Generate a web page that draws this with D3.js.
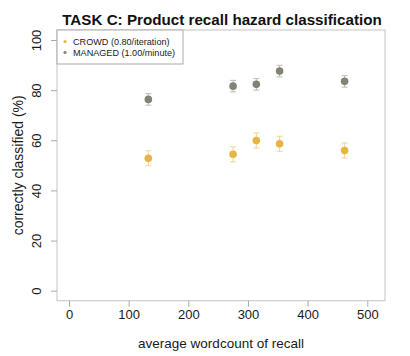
<!DOCTYPE html>
<html>
<head>
<meta charset="utf-8">
<script src="https://cdn.jsdelivr.net/npm/d3@7"></script>
<style>
  html, body { margin: 0; padding: 0; background: #fff; }
  svg { display: block; font-family: "Liberation Sans", Arial, sans-serif; }
</style>
</head>
<body>
<svg id="chart" width="410" height="356"></svg>
<script>
// ---- data ----
const wordcounts = [133, 275, 314, 353, 462];
const crowdValues = [52.8, 54.4, 59.9, 58.6, 55.9];
const crowdErrors = [3.0, 3.0, 3.0, 3.0, 3.0];
const managedValues = [76.3, 81.6, 82.3, 87.6, 83.5];
const managedErrors = [2.3, 2.3, 2.3, 2.3, 2.3];
const seriesNames = ["CROWD (0.80/iteration)", "MANAGED (1.00/minute)"];
const xTicks = [0, 100, 200, 300, 400, 500];
const yTicks = [0, 20, 40, 60, 80, 100];
const titleText = "TASK C: Product recall hazard classification";
const xLabel = "average wordcount of recall";
const yLabel = "correctly classified (%)";

// ---- layout ----
const svg = d3.select("#chart");
const frame = { left: 57, right: 385, top: 30, bottom: 300.7 };
const x = d3.scaleLinear().domain([0, 500]).range([69, 367.3]);
const y = d3.scaleLinear().domain([0, 100]).range([290.7, 40]);

const colors = { crowd: "#e6b440", managed: "#858275" };
const errColors = { crowd: "#f0d58c", managed: "#bdbbb2" };
const textColor = "#1a1a1a";

// frame
svg.append("rect")
  .attr("x", frame.left).attr("y", frame.top)
  .attr("width", frame.right - frame.left)
  .attr("height", frame.bottom - frame.top)
  .attr("fill", "none").attr("stroke", "#c4c4c4").attr("stroke-width", 1);

// x axis
const xAxis = d3.axisBottom(x).tickValues(xTicks).tickSize(6).tickPadding(3)
  .tickFormat(d3.format("d"));
const gx = svg.append("g").attr("transform", `translate(0,${frame.bottom})`).call(xAxis);
gx.select(".domain").remove();
gx.selectAll(".tick line").attr("stroke", "#aaaaaa");
gx.selectAll(".tick text").attr("font-size", 13).attr("fill", textColor)
  .attr("font-family", "Liberation Sans, Arial, sans-serif");

// y axis
const yAxis = d3.axisLeft(y).tickValues(yTicks).tickSize(6).tickPadding(0)
  .tickFormat(d3.format("d"));
const gy = svg.append("g").attr("transform", `translate(${frame.left},0)`).call(yAxis);
gy.select(".domain").remove();
gy.selectAll(".tick line").attr("stroke", "#aaaaaa");
gy.selectAll(".tick text")
  .attr("font-size", 13).attr("fill", textColor)
  .attr("font-family", "Liberation Sans, Arial, sans-serif")
  .attr("x", null).attr("dy", null)
  .attr("text-anchor", "middle")
  .attr("transform", "translate(-16,0) rotate(-90)");

// title
svg.append("text")
  .attr("x", (frame.left + frame.right) / 2 + 1).attr("y", 25)
  .attr("text-anchor", "middle")
  .attr("font-size", 15.2).attr("font-weight", "bold").attr("fill", "#111")
  .text(titleText);

// axis labels
svg.append("text")
  .attr("x", (frame.left + frame.right) / 2).attr("y", 348)
  .attr("text-anchor", "middle").attr("font-size", 13.5).attr("fill", textColor)
  .text(xLabel);
svg.append("text")
  .attr("transform", `translate(23,${(frame.top + frame.bottom) / 2}) rotate(-90)`)
  .attr("text-anchor", "middle").attr("font-size", 14).attr("fill", textColor)
  .text(yLabel);

// series
const series = [
  { key: "crowd", values: crowdValues, errors: crowdErrors },
  { key: "managed", values: managedValues, errors: managedErrors }
];
const capW = 3;
series.forEach(s => {
  const pts = wordcounts.map((w, i) => ({ w, v: s.values[i], e: s.errors[i] }));
  const g = svg.append("g");
  const eb = g.selectAll("g.eb").data(pts).enter().append("g")
    .attr("stroke", errColors[s.key]).attr("stroke-width", 1);
  eb.append("line")
    .attr("x1", d => x(d.w)).attr("x2", d => x(d.w))
    .attr("y1", d => y(d.v - d.e)).attr("y2", d => y(d.v + d.e));
  eb.append("line")
    .attr("x1", d => x(d.w) - capW).attr("x2", d => x(d.w) + capW)
    .attr("y1", d => y(d.v + d.e)).attr("y2", d => y(d.v + d.e));
  eb.append("line")
    .attr("x1", d => x(d.w) - capW).attr("x2", d => x(d.w) + capW)
    .attr("y1", d => y(d.v - d.e)).attr("y2", d => y(d.v - d.e));
  g.selectAll("circle").data(pts).enter().append("circle")
    .attr("cx", d => x(d.w)).attr("cy", d => y(d.v))
    .attr("r", 3.8).attr("fill", colors[s.key]);
});

// legend
const leg = svg.append("g");
leg.append("rect")
  .attr("x", frame.left).attr("y", frame.top)
  .attr("width", 126).attr("height", 34)
  .attr("fill", "#fff").attr("stroke", "#aaaaaa").attr("stroke-width", 1);
seriesNames.forEach((name, i) => {
  const key = i === 0 ? "crowd" : "managed";
  const cy = 41.5 + i * 11;
  leg.append("circle").attr("cx", 65).attr("cy", cy).attr("r", 1.6).attr("fill", colors[key]);
  leg.append("text").attr("x", 73).attr("y", cy + 3.3)
    .attr("font-size", 9.1).attr("fill", textColor).text(name);
});
</script>
</body>
</html>
